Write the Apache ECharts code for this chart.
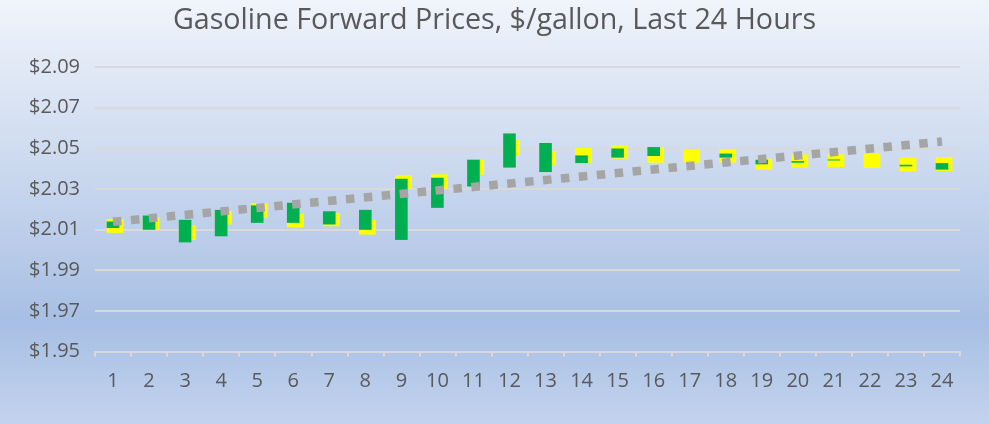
<!DOCTYPE html>
<html>
<head>
<meta charset="utf-8">
<script src="https://cdn.jsdelivr.net/npm/echarts@6/dist/echarts.min.js"></script>
<style>
html,body{margin:0;padding:0;}
#c{width:989px;height:424px;}
</style>
</head>
<body>
<div id="c"></div>
<script>
const categories = ['1','2','3','4','5','6','7','8','9','10','11','12','13','14','15','16','17','18','19','20','21','22','23','24'];
const greenLow  = [2.0108,2.0099,2.0037,2.0067,2.0133,2.0133,2.0125,2.0099,2.0049,2.0207,2.0312,2.0405,2.0383,2.0427,2.0454,2.0462,null,2.0454,2.0421,2.0429,2.0440,null,2.0411,2.0395];
const greenHigh = [2.0140,2.0169,2.0148,2.0197,2.0219,2.0232,2.0190,2.0197,2.0350,2.0355,2.0444,2.0573,2.0526,2.0465,2.0499,2.0506,null,2.0474,2.0444,2.0437,2.0445,null,2.0419,2.0427];
const yellowLow  = [2.0084,2.0100,2.0049,2.0125,2.0158,2.0111,2.0116,2.0075,2.0301,2.0301,2.0370,2.0462,2.0416,2.0429,2.0449,2.0429,2.0429,2.0429,2.0395,2.0405,2.0408,2.0403,2.0386,2.0388];
const yellowHigh = [2.0151,2.0162,2.0120,2.0190,2.0230,2.0178,2.0182,2.0148,2.0367,2.0372,2.0444,2.0540,2.0487,2.0501,2.0515,2.0506,2.0494,2.0495,2.0449,2.0470,2.0470,2.0474,2.0454,2.0457];
const trendStart = 2.0138;
const trendEnd = 2.0533;
const titleText = 'Gasoline Forward Prices, $/gallon, Last 24 Hours';

const chart = echarts.init(document.getElementById('c'));
const FONT = '"Open Sans", "Noto Sans", sans-serif';
const TEXT = '#595959';

function rangeData(lo, hi) {
  return categories.map((c, i) => (lo[i] == null ? [i, '-', '-'] : [i, lo[i], hi[i]]));
}
function makeRender(widthFrac, color) {
  return function (params, api) {
    const lo = api.value(1), hi = api.value(2);
    if (isNaN(lo) || isNaN(hi)) return null;
    const band = api.size([1, 0])[0];
    const p1 = api.coord([api.value(0), lo]);
    const p2 = api.coord([api.value(0), hi]);
    const gw = band * 0.35;
    const left = p1[0] - gw / 2;
    const w = band * widthFrac;
    const top = Math.min(p1[1], p2[1]);
    const h = Math.max(Math.abs(p1[1] - p2[1]), 1);
    return { type: 'rect', shape: { x: left, y: top, width: w, height: h }, style: { fill: color } };
  };
}

chart.setOption({
  backgroundColor: {
    type: 'linear', x: 0, y: 0, x2: 0, y2: 1,
    colorStops: [
      { offset: 0, color: '#f0f4fb' },
      { offset: 0.45, color: '#c6d5ed' },
      { offset: 0.76, color: '#a7bfe4' },
      { offset: 1, color: '#c3d3ee' }
    ]
  },
  animation: false,
  title: {
    text: titleText, left: 'center', top: 1,
    textStyle: { fontFamily: FONT, fontSize: 28.7, fontWeight: 'normal', color: TEXT }
  },
  grid: { left: 95, right: 29, top: 67, bottom: 72.5 },
  xAxis: {
    type: 'category', data: categories, boundaryGap: true,
    axisLine: { lineStyle: { color: '#d9d9d9', width: 2 } },
    axisTick: { show: true, length: 5, lineStyle: { color: '#d9d9d9', width: 2 } },
    axisLabel: { fontFamily: FONT, fontSize: 20, color: TEXT, margin: 20 },
    splitLine: { show: false }
  },
  yAxis: {
    type: 'value', min: 1.95, max: 2.09, interval: 0.02,
    axisLine: { show: false }, axisTick: { show: false },
    axisLabel: { fontFamily: FONT, fontSize: 20, color: TEXT, margin: 15,
      formatter: v => '$' + v.toFixed(2) },
    splitLine: { lineStyle: { color: '#d9d9d9', width: 2 } }
  },
  series: [
    { type: 'custom', name: 'yellow', renderItem: makeRender(0.465, '#ffff00'),
      encode: { x: 0, y: [1, 2] }, data: rangeData(yellowLow, yellowHigh), z: 2 },
    { type: 'custom', name: 'green', renderItem: makeRender(0.35, '#00b050'),
      encode: { x: 0, y: [1, 2] }, data: rangeData(greenLow, greenHigh), z: 3 },
    { type: 'line', name: 'trend', data: [[categories[0], trendStart], [categories[categories.length - 1], trendEnd]],
      symbol: 'none', z: 4,
      lineStyle: { color: '#a5a5a5', width: 8.5, type: [8.5, 9.5], cap: 'butt' } }
  ]
});
</script>
</body>
</html>
